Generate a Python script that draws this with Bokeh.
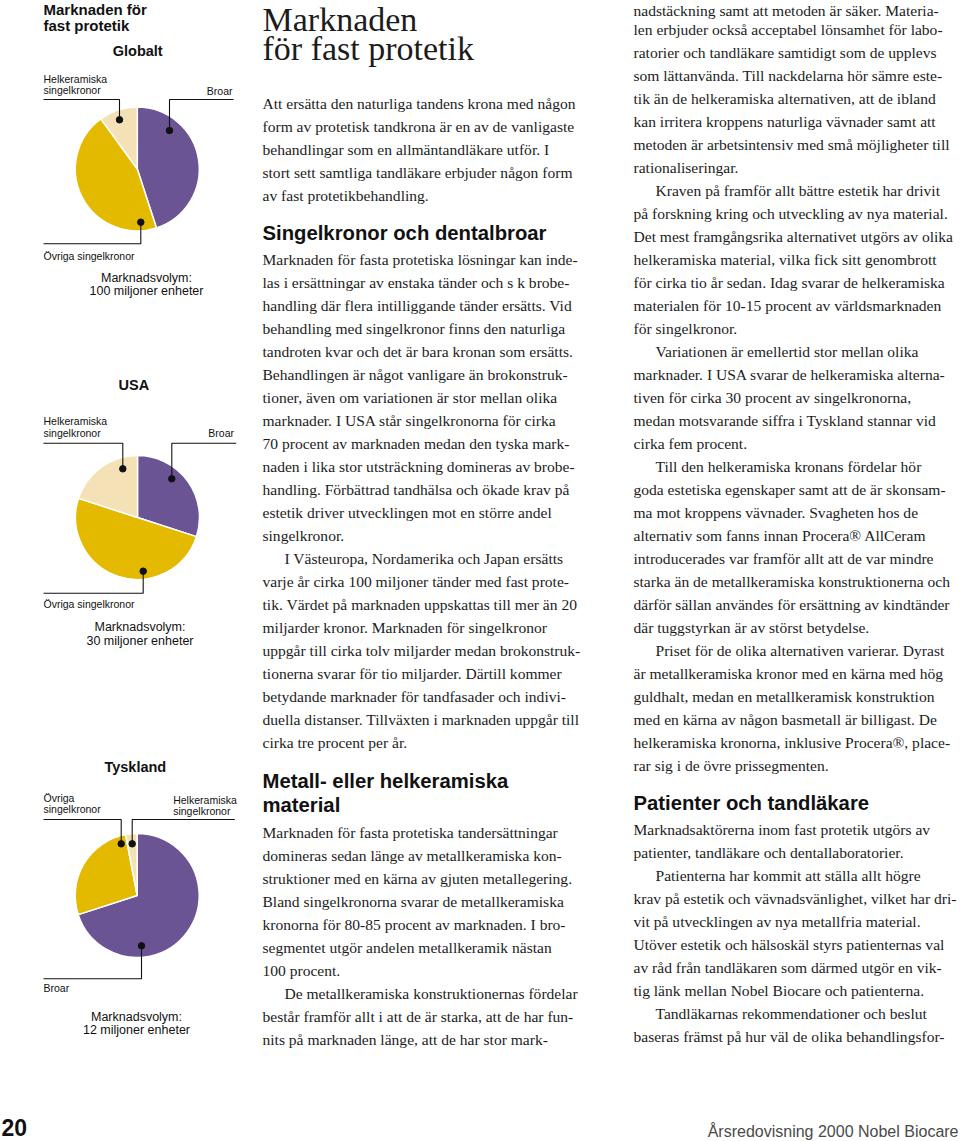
import math
from bokeh.plotting import figure
from bokeh.models import Range1d, ColumnDataSource
from bokeh.embed import file_html
from bokeh.resources import INLINE
from bokeh.core.properties import value

# ---------------- data ----------------
segments = ["Broar", "Övriga singelkronor", "Helkeramiska singelkronor"]
seg_colors = ["#6a5494", "#e3ba00", "#f4e2b6"]
regions = ["Globalt", "USA", "Tyskland"]
share_globalt = [45, 45, 10]
share_usa = [30, 50, 20]
share_tyskland = [70, 27, 3]
volumes = ["100 miljoner enheter", "30 miljoner enheter", "12 miljoner enheter"]
shares = [share_globalt, share_usa, share_tyskland]

# ---------------- page geometry ----------------
W, H = 960, 1141

p = figure(width=W, height=H, x_range=Range1d(0, W), y_range=Range1d(H, 0),
           output_backend="svg", toolbar_location=None, min_border=0)
p.axis.visible = False
p.grid.visible = False
p.outline_line_color = None
p.background_fill_color = "white"
p.border_fill_color = "white"

SANS = value("Liberation Sans")
SERIF = value("Liberation Serif")

def txt(x, y, s, size, font=SANS, bold=False, align="left", baseline="middle", color="#111111"):
    p.text(x=[x], y=[y], text=[s], text_font=font, text_font_size=value(f"{size}px"),
           text_font_style="bold" if bold else "normal", text_align=align,
           text_baseline=baseline, text_color=color)

# ---------------- left column: pies ----------------
txt(43, 8.5, "Marknaden för", 15, bold=True)
txt(43, 24.5, "fast protetik", 15, bold=True)

centers = [(136.8, 168.5), (137.0, 517.0), (136.7, 895.0)]
title_pos = [(137.2, 50), (133.3, 384), (134.8, 766.7)]
vol_pos = [(146, 277, 290), (139.5, 626, 640), (136, 1016.7, 1029)]
R = 62

for k in range(3):
    cx, cy = centers[k]
    vals = shares[k]
    tot = float(sum(vals))
    cum = 0.0
    starts, ends = [], []
    for v in vals:
        starts.append(math.pi / 2 - 2 * math.pi * cum / tot)
        cum += v
        ends.append(math.pi / 2 - 2 * math.pi * cum / tot)
    src = ColumnDataSource(dict(x=[cx] * 3, y=[cy] * 3, start=starts, end=ends,
                                color=seg_colors, seg=segments))
    p.wedge(x="x", y="y", radius=R, radius_units="screen", start_angle="start",
            end_angle="end", direction="clock", fill_color="color",
            line_color="white", line_width=1.5, source=src)
    tx, ty = title_pos[k]
    txt(tx, ty, regions[k], 14.5, bold=True, align="center")
    vx, vy1, vy2 = vol_pos[k]
    txt(vx, vy1, "Marknadsvolym:", 12.5, align="center")
    txt(vx, vy2, volumes[k], 12.5, align="center")

# leader lines: (path xs, path ys, dot index, label lines, label x, label ys, align)
leaders = [
    # Globalt
    ([43, 119, 119], [99, 99, 119.3], -1, ["Helkeramiska", "singelkronor"], 43, [78.5, 89.5], "left"),
    ([233, 169, 169], [99, 99, 130], -1, ["Broar"], 232, [90.3], "right"),
    ([140.3, 140.3, 43], [221.7, 243.3, 243.3], 0, ["Övriga singelkronor"], 43, [255], "left"),
    # USA
    ([43, 122.3, 122.3], [442.7, 442.7, 468.3], -1, ["Helkeramiska", "singelkronor"], 43, [420.7, 432.3], "left"),
    ([235.7, 171.3, 171.3], [442.7, 442.7, 478.3], -1, ["Broar"], 233.5, [432.7], "right"),
    ([142.7, 142.7, 43], [570.7, 592.7, 592.7], 0, ["Övriga singelkronor"], 43, [603], "left"),
    # Tyskland
    ([43, 120.7, 120.7], [819, 819, 843.3], -1, ["Övriga", "singelkronor"], 43, [797.3, 808.5], "left"),
    ([234.3, 131.7, 131.7], [819, 819, 843.3], -1, ["Helkeramiska", "singelkronor"], 172.7, [799.3, 810.3], "left"),
    ([141, 141, 43], [945.3, 978.3, 978.3], 0, ["Broar"], 43, [987.5], "left"),
]
for xs, ys, di, lines, lx, lys, al in leaders:
    p.line(xs, ys, line_color="#111111", line_width=1.1)
    p.scatter([xs[di]], [ys[di]], size=6.5, color="#111111")
    for s, yy in zip(lines, lys):
        txt(lx, yy, s, 10.5, align=al)

# ---------------- body text ----------------
LH = 23.0
INDENT = 22
BODY = 15.55
BODY_COLOR = "#1c1c1c"

col2 = [
    (262, 104, False, [
        "Att ersätta den naturliga tandens krona med någon",
        "form av protetisk tandkrona är en av de vanligaste",
        "behandlingar som en allmäntandläkare utför. I",
        "stort sett samtliga tandläkare erbjuder någon form",
        "av fast protetikbehandling."]),
    (262, 260, False, [
        "Marknaden för fasta protetiska lösningar kan inde-",
        "las i ersättningar av enstaka tänder och s k brobe-",
        "handling där flera intilliggande tänder ersätts. Vid",
        "behandling med singelkronor finns den naturliga",
        "tandroten kvar och det är bara kronan som ersätts.",
        "Behandlingen är något vanligare än brokonstruk-",
        "tioner, även om variationen är stor mellan olika",
        "marknader. I USA står singelkronorna för cirka",
        "70 procent av marknaden medan den tyska mark-",
        "naden i lika stor utsträckning domineras av brobe-",
        "handling. Förbättrad tandhälsa och ökade krav på",
        "estetik driver utvecklingen mot en större andel",
        "singelkronor."]),
    (262, 559, True, [
        "I Västeuropa, Nordamerika och Japan ersätts",
        "varje år cirka 100 miljoner tänder med fast prote-",
        "tik. Värdet på marknaden uppskattas till mer än 20",
        "miljarder kronor. Marknaden för singelkronor",
        "uppgår till cirka tolv miljarder medan brokonstruk-",
        "tionerna svarar för tio miljarder. Därtill kommer",
        "betydande marknader för tandfasader och indivi-",
        "duella distanser. Tillväxten i marknaden uppgår till",
        "cirka tre procent per år."]),
    (262, 833, False, [
        "Marknaden för fasta protetiska tandersättningar",
        "domineras sedan länge av metallkeramiska kon-",
        "struktioner med en kärna av gjuten metallegering.",
        "Bland singelkronorna svarar de metallkeramiska",
        "kronorna för 80-85 procent av marknaden. I bro-",
        "segmentet utgör andelen metallkeramik nästan",
        "100 procent."]),
    (262, 994.5, True, [
        "De metallkeramiska konstruktionernas fördelar",
        "består framför allt i att de är starka, att de har fun-",
        "nits på marknaden länge, att de har stor mark-"]),
]
col3 = [
    (633, 7, False, [
        "nadstäckning samt att metoden är säker. Materia-",
        "len erbjuder också acceptabel lönsamhet för labo-",
        "ratorier och tandläkare samtidigt som de upplevs",
        "som lättanvända. Till nackdelarna hör sämre este-",
        "tik än de helkeramiska alternativen, att de ibland",
        "kan irritera kroppens naturliga vävnader samt att",
        "metoden är arbetsintensiv med små möjligheter till",
        "rationaliseringar."]),
    (633, 191, True, [
        "Kraven på framför allt bättre estetik har drivit",
        "på forskning kring och utveckling av nya material.",
        "Det mest framgångsrika alternativet utgörs av olika",
        "helkeramiska material, vilka fick sitt genombrott",
        "för cirka tio år sedan. Idag svarar de helkeramiska",
        "materialen för 10-15 procent av världsmarknaden",
        "för singelkronor."]),
    (633, 352, True, [
        "Variationen är emellertid stor mellan olika",
        "marknader. I USA svarar de helkeramiska alterna-",
        "tiven för cirka 30 procent av singelkronorna,",
        "medan motsvarande siffra i Tyskland stannar vid",
        "cirka fem procent."]),
    (633, 467, True, [
        "Till den helkeramiska kronans fördelar hör",
        "goda estetiska egenskaper samt att de är skonsam-",
        "ma mot kroppens vävnader. Svagheten hos de",
        "alternativ som fanns innan Procera® AllCeram",
        "introducerades var framför allt att de var mindre",
        "starka än de metallkeramiska konstruktionerna och",
        "därför sällan användes för ersättning av kindtänder",
        "där tuggstyrkan är av störst betydelse."]),
    (633, 651, True, [
        "Priset för de olika alternativen varierar. Dyrast",
        "är metallkeramiska kronor med en kärna med hög",
        "guldhalt, medan en metallkeramisk konstruktion",
        "med en kärna av någon basmetall är billigast. De",
        "helkeramiska kronorna, inklusive Procera®, place-",
        "rar sig i de övre prissegmenten."]),
    (633, 830, False, [
        "Marknadsaktörerna inom fast protetik utgörs av",
        "patienter, tandläkare och dentallaboratorier."]),
    (633, 876, True, [
        "Patienterna har kommit att ställa allt högre",
        "krav på estetik och vävnadsvänlighet, vilket har dri-",
        "vit på utvecklingen av nya metallfria material."]),
    (633, 945, False, [
        "Utöver estetik och hälsoskäl styrs patienternas val",
        "av råd från tandläkaren som därmed utgör en vik-",
        "tig länk mellan Nobel Biocare och patienterna."]),
    (633, 1014, True, [
        "Tandläkarnas rekommendationer och beslut",
        "baseras främst på hur väl de olika behandlingsfor-"]),
]

bx, by, bt = [], [], []
for x0, y0, indent, lines in col2 + col3:
    for i, s in enumerate(lines):
        yy = y0 + LH * i - 1.5
        bx.append(x0 + (INDENT if (indent and i == 0) else 0))
        by.append(max(yy, 9.5))   # keep the very first line inside the page
        bt.append(s)
p.text(x=bx, y=by, text=bt, text_font=SERIF, text_font_size=value(f"{BODY}px"),
       text_baseline="middle", text_align="left", text_color=BODY_COLOR)

# big title
txt(262, 19, "Marknaden", 34, font=SERIF, color="#1c1c1c")
txt(262, 48, "för fast protetik", 34, font=SERIF, color="#1c1c1c")

# section headings
HEAD = 20.3
txt(262, 232.5, "Singelkronor och dentalbroar", HEAD, bold=True)
txt(262, 780.5, "Metall- eller helkeramiska", HEAD, bold=True)
txt(262, 804.5, "material", HEAD, bold=True)
txt(633, 802, "Patienter och tandläkare", HEAD, bold=True)

# footer
txt(1, 1127, "20", 23, bold=True, color="#111111")
txt(958, 1131, "Årsredovisning 2000 Nobel Biocare", 16, align="right", color="#4a4a4a")

open("out.html", "w").write(file_html(p, INLINE))
